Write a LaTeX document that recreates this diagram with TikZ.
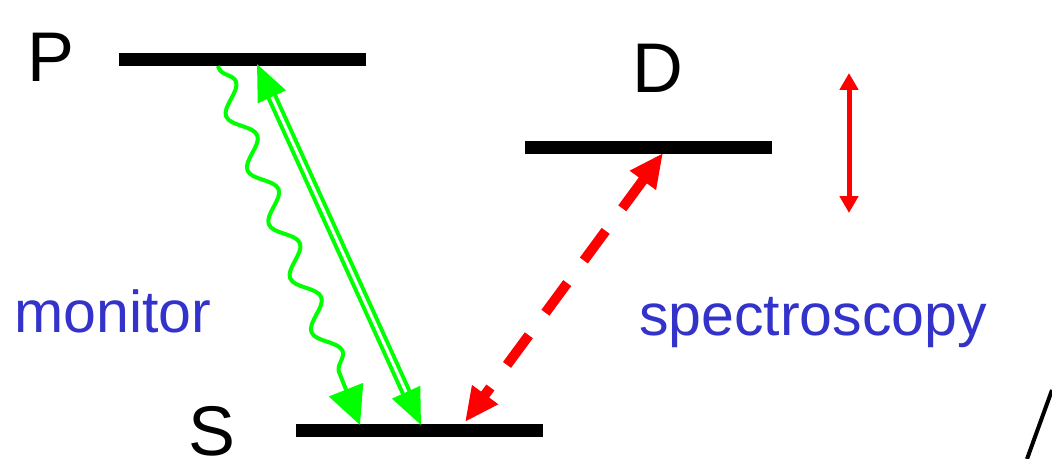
\documentclass[tikz,border=0pt]{standalone}
\usepackage{fontspec}
\setmainfont{Liberation Sans}
\usetikzlibrary{arrows.meta,decorations.pathmorphing}
\definecolor{lasergreen}{RGB}{0,255,0}
\definecolor{textblue}{RGB}{51,51,204}

\begin{document}
\begin{tikzpicture}[x=0.025cm,y=-0.025cm,line join=round,
  level/.style={line width=13*0.025cm,black},
  lbl/.style={font=\fontsize{50}{60}\selectfont,anchor=base,inner sep=0pt},
  note/.style={font=\fontsize{42}{50}\selectfont,anchor=base,inner sep=0pt,
    text=textblue}]
\useasboundingbox (0,0) rectangle (1052,459);

%% ---------------- the three levels ----------------
\coordinate (pL) at (119,60);  \coordinate (pR) at (366,60);
\coordinate (dL) at (525,148); \coordinate (dR) at (772,148);
\coordinate (sL) at (296,430); \coordinate (sR) at (543,430);
\draw[level] (pL) -- (pR);
\draw[level] (dL) -- (dR);
\draw[level] (sL) -- (sR);
\node[lbl] (pname) at (51,82)  {P};
\node[lbl] (dname) at (658,93) {D};
\node[lbl] (sname) at (212,455) {S};

%% ---------------- green: drive and fluorescence ----------
\coordinate (wTop) at (218,66);  \coordinate (wBot) at (360,425);
\coordinate (cTop) at (257,64);  \coordinate (cBot) at (421,425);
\draw[lasergreen,line width=4*0.025cm,-{Triangle[length=0.95cm,width=0.9cm]},
  decorate,decoration={snake,amplitude=11*0.025cm,segment length=58*0.025cm,
  pre length=2pt,post length=0.9cm}] (wTop) -- (wBot);
\draw[lasergreen,line width=4*0.025cm,double=white,double distance=3*0.025cm,
  {Triangle[length=0.9cm,width=0.75cm]}-{Triangle[length=0.9cm,width=0.75cm]}]
  (cTop) -- (cBot);
\node[note] (mon) at (113,332) {monitor};

%% ---------------- red: the probed transition ----------
\coordinate (rTop) at (663,153); \coordinate (rBot) at (465,422);
\draw[red,line width=10*0.025cm,dash pattern=on 0.92cm off 0.7cm,
  {Triangle[length=0.85cm,width=0.75cm]}-{Triangle[length=0.85cm,width=0.75cm]}]
  (rTop) -- (rBot);
\coordinate (shiftUp) at (849,73); \coordinate (shiftDn) at (849,213);
\draw[red,line width=5*0.025cm,
  {Triangle[length=0.42cm,width=0.45cm]}-{Triangle[length=0.42cm,width=0.45cm]}]
  (shiftUp) -- (shiftDn);
\node[note] (spec) at (813,335) {spectroscopy};

%% cut-off edge at the right
\coordinate (edgeA) at (1027,459); \coordinate (edgeB) at (1052,390);
\draw[line width=4*0.025cm] (edgeA) -- (edgeB);
\end{tikzpicture}
\end{document}
